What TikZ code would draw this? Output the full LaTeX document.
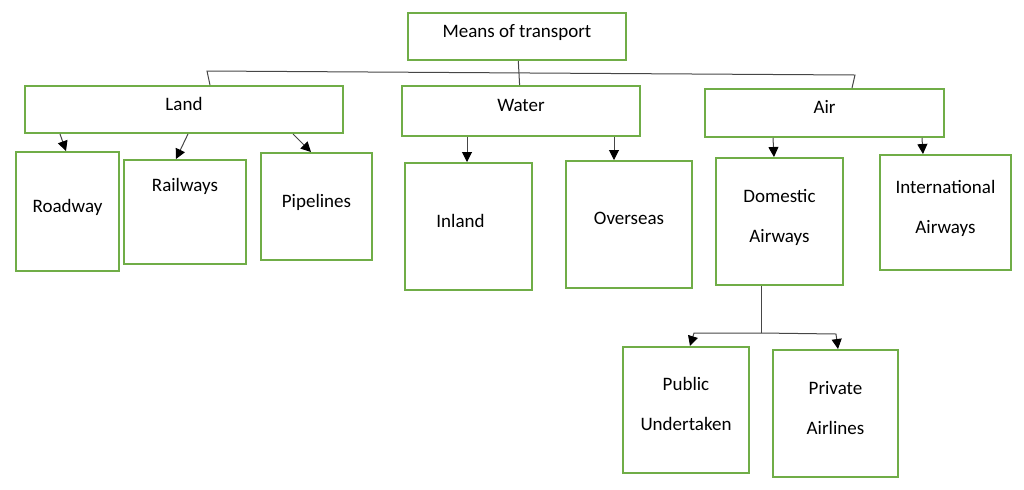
\documentclass[tikz,border=0pt]{standalone}
\usepackage{fontspec}
\setmainfont{Carlito}
\usepackage{xcolor}
\usepackage{tikz}
\usetikzlibrary{arrows.meta}
\definecolor{boxgreen}{RGB}{112, 173, 71}
\definecolor{linkgrey}{RGB}{70, 70, 70}

\begin{document}
\begin{tikzpicture}[
  x=0.5pt, y=-0.5pt,
  box/.style={draw=boxgreen, line width=1pt, fill=white, align=center,
              inner sep=0pt, text depth=6pt, font=\fontsize{9.5}{20}\selectfont},
  link/.style={draw=linkgrey, line width=0.5pt},
  arrow/.style={link, -{Triangle[length=5pt, width=5pt, color=black]}}
]
  \useasboundingbox (0,0) rectangle (1024,489);

  \node[box, minimum width=109pt, minimum height=23.5pt] (means) at (517,36.5)
    {Means of transport};

  \node[box, minimum width=159pt, minimum height=23.5pt] (land) at (184,109.5) {Land};
  \node[box, minimum width=119pt, minimum height=25pt] (water) at (521,111) {Water};
  \node[box, minimum width=119.5pt, minimum height=24pt] (air) at (824.5,113) {Air};

  \node[box, minimum width=51.5pt, minimum height=59.5pt] (roadway) at (67.5,211.5) {Roadway};
  \node[box, minimum width=61pt, minimum height=52pt] (railways) at (185,212)
    {Railways\\[1pt]\mbox{}};
  \node[box, minimum width=55.5pt, minimum height=53.5pt] (pipelines) at (316.5,206.5) {Pipelines};

  \node[box, minimum width=63.5pt, minimum height=63.5pt] (inland) at (468.5,226.5)
    {Inland\hspace*{8pt}};
  \node[box, minimum width=63pt, minimum height=63.5pt] (overseas) at (629,224.5) {Overseas};

  \node[box, minimum width=63.5pt, minimum height=63.5pt] (domestic) at (779.5,221.5)
    {Domestic\\Airways};
  \node[box, minimum width=65.5pt, minimum height=57.5pt] (intl) at (945.5,212.5)
    {International\\Airways};

  \node[box, minimum width=63pt, minimum height=63pt] (public) at (686,410)
    {Public\\Undertaken};
  \node[box, minimum width=62.5pt, minimum height=63.5pt] (private) at (835.5,413.5)
    {Private\\Airlines};

  \coordinate (barL) at (207,71);
  \coordinate (barR) at (855,75);
  \coordinate (fork) at (761,333);
  \coordinate (forkL) at (694,333);
  \coordinate (forkR) at (836,334);

  \draw[link] (means) -- (water);
  \draw[link] ([shift={(26,0)}]land.north) -- (barL) -- (barR)
    -- ([shift={(27.5,0)}]air.north);

  \draw[arrow] ([shift={(-124,0)}]land.south) -- ([shift={(-1.5,0)}]roadway.north);
  \draw[arrow] ([shift={(4,0)}]land.south) -- ([shift={(-9,0)}]railways.north);
  \draw[arrow] ([shift={(109,0)}]land.south) -- ([shift={(-5.5,0)}]pipelines.north);

  \draw[arrow] ([shift={(-54,0)}]water.south) -- ([shift={(-1.5,0)}]inland.north);
  \draw[arrow] ([shift={(93,0)}]water.south) -- ([shift={(-15,0)}]overseas.north);

  \draw[arrow] ([shift={(-51.5,0)}]air.south) -- ([shift={(-5.5,0)}]domestic.north);
  \draw[arrow] ([shift={(97.5,0)}]air.south) -- ([shift={(-22.5,0)}]intl.north);

  \draw[link] ([shift={(-18.5,0)}]domestic.south) -- (fork);
  \draw[arrow] (fork) -- (forkL) -- ([shift={(4,0)}]public.north);
  \draw[arrow] (fork) -- (forkR) -- ([shift={(2.5,0)}]private.north);
\end{tikzpicture}
\end{document}
